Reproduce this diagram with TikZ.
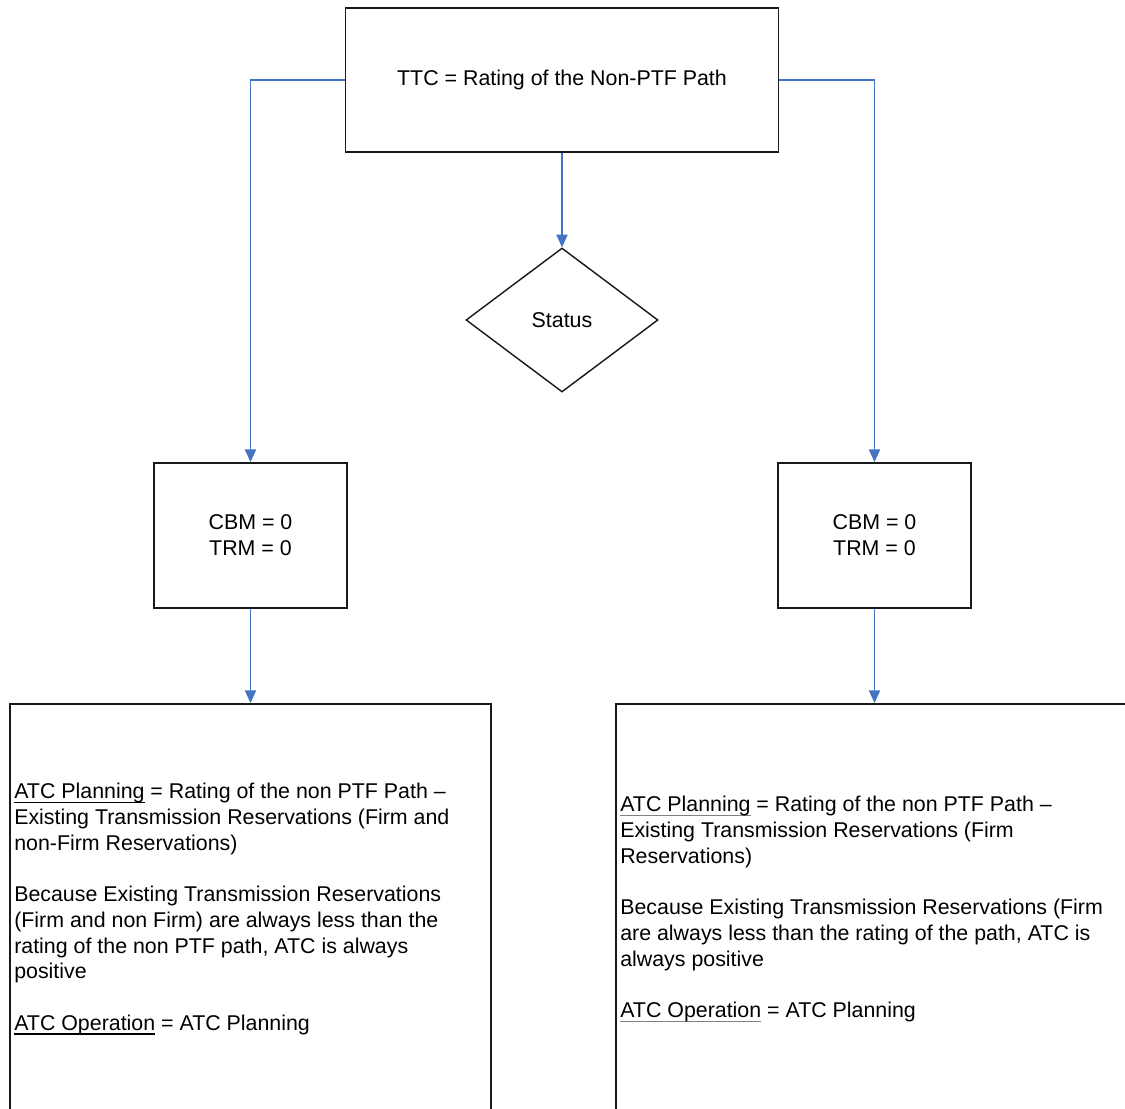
\documentclass[tikz,border=0pt]{standalone}
\usepackage{fontspec}
\setmainfont{Liberation Sans}
\usetikzlibrary{arrows.meta,shapes.geometric}
\definecolor{LinkClr}{rgb}{0.27,0.45,0.77}
\definecolor{BoxClr}{rgb}{0.1,0.1,0.1}
\newcommand\undl[2][black]{\setbox0\hbox{#2}%
  \rlap{\textcolor{#1}{\vrule height -2.2pt depth 3pt width \wd0}}#2}

\begin{document}
\begin{tikzpicture}[x=0.025cm,y=-0.025cm,
  box/.style={draw=BoxClr,line width=1.3pt,rectangle,inner sep=0pt},
  decision/.style={draw=BoxClr,line width=1pt,diamond,aspect=1.333,
    minimum width=4.8cm,minimum height=3.6cm,inner sep=0pt},
  link/.style={draw=LinkClr,line width=0.9pt,-{Triangle[width=8pt,length=9pt]}},
  lbl/.style={font=\fontsize{15.2}{18.3}\selectfont,align=center,inner sep=0pt},
  notes/.style={font=\fontsize{15.2}{18.3}\selectfont,align=left,inner sep=0pt,anchor=north west}]
\useasboundingbox (0,0) rectangle (1125,1109);
\clip (0,0) rectangle (1125,1109);

% top of the chart
\node[box,minimum width=10.825cm,minimum height=3.6cm,lbl] (ttc) at (562,80)
  {TTC = Rating of the Non-PTF Path};
\node[decision,lbl] (status) at (562,320) {Status};

% margins
\node[box,minimum width=4.825cm,minimum height=3.625cm,lbl] (cbmL) at (250.5,535.5)
  {CBM = 0\\TRM = 0};
\node[box,minimum width=4.825cm,minimum height=3.625cm,lbl] (cbmR) at (874.5,535.5)
  {CBM = 0\\TRM = 0};

% results
\node[box,minimum width=12.025cm,minimum height=10.75cm] (atcL) at (250.5,919) {};
\node[box,minimum width=13.225cm,minimum height=10.75cm] (atcR) at (880.5,919) {};

\node[notes] (txtL) at (14,783) {%
  \undl{ATC Planning} = Rating of the non PTF Path --\\
  Existing Transmission Reservations (Firm and\\
  non-Firm Reservations)\\[18.3pt]
  Because Existing Transmission Reservations\\
  (Firm and non Firm) are always less than the\\
  rating of the non PTF path, ATC is always\\
  positive\\[18.3pt]
  \undl{ATC Operation} = ATC Planning};
\node[notes] (txtR) at (620,796) {%
  \undl[gray]{ATC Planning} = Rating of the non PTF Path --\\
  Existing Transmission Reservations (Firm\\
  Reservations)\\[18.3pt]
  Because Existing Transmission Reservations (Firm\\
  are always less than the rating of the path, ATC is\\
  always positive\\[18.3pt]
  \undl[gray]{ATC Operation} = ATC Planning};

% connectors
\draw[link] (ttc.west) -| (cbmL.north);
\draw[link] (ttc.east) -| (cbmR.north);
\draw[link] (ttc.south) -- (status.north);
\draw[link] (cbmL.south) -- (atcL.north);
\draw[link] (cbmR.south) -- (cbmR.south |- atcR.north);

\end{tikzpicture}
\end{document}
